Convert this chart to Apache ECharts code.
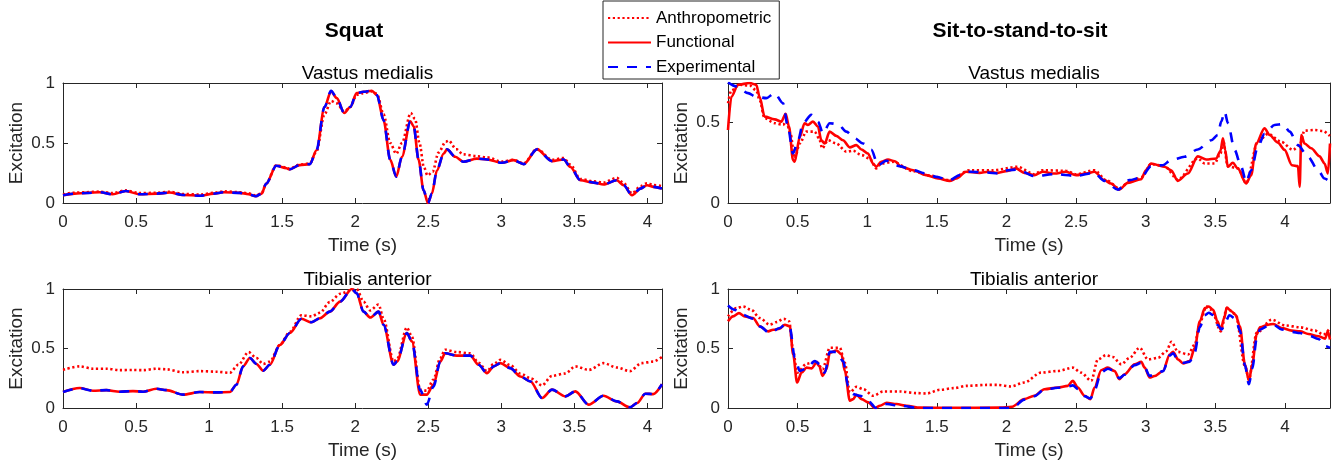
<!DOCTYPE html>
<html><head><meta charset="utf-8">
<script src="https://cdn.jsdelivr.net/npm/echarts@6/dist/echarts.min.js"></script>
<style>html,body{margin:0;padding:0;background:#fff}#c{width:1338px;height:468px}</style>
</head><body><div id="c"></div>
<script>
// ---------- DATA ----------
const seriesNames = ['Anthropometric', 'Functional', 'Experimental'];
const xTicksSquat = [0, 0.5, 1, 1.5, 2, 2.5, 3, 3.5, 4];
const xTicksSts = [0, 0.5, 1, 1.5, 2, 2.5, 3, 3.5, 4];
const yTicksFull = [0, 0.5, 1];
const yTicksStsVM = [0, 0.5];

// Squat - Vastus medialis
const sqVM_anthro = [[0,0.072],[0.08,0.086],[0.16,0.09],[0.25,0.095],[0.34,0.082],[0.43,0.105],[0.525,0.082],[0.64,0.085],[0.73,0.094],[0.82,0.075],[0.94,0.07],[1.03,0.085],[1.10,0.097],[1.21,0.09],[1.27,0.08],[1.32,0.062],[1.36,0.082],[1.39,0.16],[1.46,0.315],[1.53,0.295],[1.55,0.285],[1.62,0.32],[1.69,0.33],[1.735,0.43],[1.79,0.74],[1.835,0.85],[1.874,0.83],[1.925,0.76],[1.966,0.80],[2.01,0.90],[2.057,0.916],[2.114,0.93],[2.149,0.91],[2.194,0.74],[2.24,0.50],[2.281,0.41],[2.32,0.50],[2.38,0.75],[2.41,0.70],[2.44,0.50],[2.47,0.30],[2.495,0.23],[2.53,0.26],[2.57,0.42],[2.62,0.51],[2.64,0.52],[2.69,0.45],[2.74,0.405],[2.833,0.39],[2.902,0.38],[3.004,0.345],[3.084,0.36],[3.153,0.33],[3.244,0.45],[3.347,0.36],[3.427,0.375],[3.473,0.32],[3.541,0.20],[3.633,0.18],[3.70,0.17],[3.79,0.21],[3.838,0.165],[3.895,0.08],[3.952,0.14],[3.998,0.165],[4.043,0.15],[4.1,0.14]];
const sqVM_func = [[0,0.064],[0.08,0.078],[0.16,0.084],[0.25,0.09],[0.34,0.073],[0.43,0.10],[0.525,0.073],[0.64,0.078],[0.73,0.087],[0.82,0.067],[0.94,0.061],[1.03,0.078],[1.10,0.09],[1.21,0.084],[1.27,0.073],[1.32,0.056],[1.36,0.078],[1.39,0.16],[1.46,0.31],[1.53,0.29],[1.55,0.28],[1.62,0.316],[1.69,0.324],[1.735,0.44],[1.79,0.80],[1.835,0.93],[1.874,0.874],[1.925,0.75],[1.966,0.80],[2.01,0.916],[2.057,0.927],[2.114,0.936],[2.149,0.90],[2.194,0.69],[2.24,0.36],[2.281,0.22],[2.32,0.385],[2.377,0.68],[2.4,0.64],[2.434,0.36],[2.468,0.106],[2.498,0.0],[2.525,0.078],[2.559,0.27],[2.605,0.41],[2.628,0.447],[2.685,0.385],[2.74,0.344],[2.833,0.37],[2.902,0.363],[3.004,0.335],[3.084,0.357],[3.153,0.324],[3.244,0.447],[3.347,0.349],[3.427,0.363],[3.473,0.30],[3.541,0.19],[3.633,0.17],[3.70,0.154],[3.79,0.19],[3.838,0.148],[3.895,0.064],[3.952,0.12],[3.998,0.148],[4.043,0.134],[4.1,0.12]];
const sqVM_exp = [[0,0.064],[0.08,0.078],[0.16,0.083],[0.25,0.09],[0.34,0.072],[0.43,0.10],[0.525,0.073],[0.64,0.078],[0.73,0.086],[0.82,0.067],[0.94,0.061],[1.03,0.078],[1.10,0.09],[1.21,0.084],[1.27,0.073],[1.32,0.056],[1.36,0.078],[1.39,0.16],[1.46,0.31],[1.53,0.29],[1.55,0.28],[1.62,0.316],[1.69,0.324],[1.735,0.44],[1.79,0.80],[1.835,0.935],[1.874,0.874],[1.925,0.75],[1.966,0.80],[2.01,0.916],[2.057,0.927],[2.114,0.936],[2.149,0.90],[2.194,0.69],[2.24,0.36],[2.281,0.22],[2.32,0.385],[2.377,0.68],[2.4,0.64],[2.434,0.36],[2.468,0.106],[2.498,0.0],[2.525,0.078],[2.559,0.27],[2.605,0.41],[2.628,0.447],[2.685,0.385],[2.74,0.344],[2.833,0.37],[2.902,0.363],[3.004,0.335],[3.084,0.357],[3.153,0.324],[3.244,0.447],[3.347,0.349],[3.427,0.363],[3.473,0.30],[3.541,0.19],[3.633,0.17],[3.70,0.154],[3.79,0.19],[3.838,0.148],[3.895,0.064],[3.952,0.12],[3.998,0.148],[4.043,0.134],[4.1,0.12]];

// Squat - Tibialis anterior
const sqTA_anthro = [[0,0.32],[0.114,0.35],[0.205,0.33],[0.3,0.33],[0.388,0.318],[0.479,0.32],[0.548,0.318],[0.639,0.33],[0.708,0.325],[0.822,0.30],[0.936,0.31],[1.05,0.305],[1.142,0.296],[1.2,0.363],[1.27,0.47],[1.324,0.42],[1.37,0.37],[1.416,0.39],[1.484,0.53],[1.553,0.64],[1.632,0.78],[1.70,0.77],[1.758,0.80],[1.826,0.89],[1.897,0.96],[1.977,0.99],[2.01,1.0],[2.057,0.894],[2.103,0.82],[2.16,0.87],[2.194,0.75],[2.263,0.39],[2.286,0.41],[2.354,0.676],[2.388,0.6],[2.445,0.154],[2.49,0.145],[2.536,0.24],[2.582,0.42],[2.616,0.49],[2.696,0.47],[2.788,0.46],[2.845,0.38],[2.902,0.31],[2.948,0.37],[2.994,0.405],[3.062,0.36],[3.131,0.29],[3.2,0.25],[3.279,0.19],[3.347,0.27],[3.438,0.29],[3.507,0.35],[3.598,0.32],[3.70,0.377],[3.79,0.34],[3.88,0.31],[3.96,0.377],[4.04,0.39],[4.1,0.43]];
const sqTA_func = [[0,0.134],[0.114,0.168],[0.205,0.145],[0.297,0.15],[0.388,0.137],[0.479,0.142],[0.548,0.137],[0.639,0.162],[0.708,0.15],[0.822,0.112],[0.936,0.134],[1.05,0.131],[1.142,0.134],[1.187,0.196],[1.233,0.35],[1.279,0.42],[1.324,0.37],[1.37,0.313],[1.416,0.363],[1.484,0.53],[1.553,0.63],[1.632,0.75],[1.70,0.72],[1.758,0.754],[1.826,0.81],[1.897,0.894],[1.977,1.0],[2.01,0.964],[2.057,0.81],[2.103,0.76],[2.16,0.81],[2.194,0.70],[2.263,0.363],[2.286,0.39],[2.354,0.63],[2.388,0.56],[2.445,0.112],[2.49,0.112],[2.536,0.196],[2.582,0.39],[2.616,0.46],[2.696,0.44],[2.788,0.44],[2.845,0.363],[2.902,0.293],[2.948,0.35],[2.994,0.377],[3.062,0.335],[3.131,0.265],[3.2,0.223],[3.279,0.084],[3.347,0.154],[3.438,0.098],[3.507,0.14],[3.598,0.028],[3.70,0.103],[3.79,0.056],[3.88,0.006],[3.93,0.042],[3.986,0.12],[4.04,0.117],[4.1,0.2]];
const sqTA_exp = [[0,0.134],[0.114,0.167],[0.205,0.145],[0.297,0.15],[0.388,0.137],[0.479,0.142],[0.548,0.137],[0.639,0.162],[0.708,0.15],[0.822,0.112],[0.936,0.134],[1.05,0.131],[1.142,0.134],[1.187,0.196],[1.233,0.35],[1.279,0.42],[1.324,0.37],[1.37,0.313],[1.416,0.363],[1.484,0.53],[1.553,0.63],[1.632,0.75],[1.70,0.72],[1.758,0.754],[1.826,0.81],[1.897,0.894],[1.977,1.0],[2.01,0.964],[2.057,0.81],[2.103,0.76],[2.16,0.81],[2.194,0.70],[2.263,0.363],[2.286,0.39],[2.354,0.63],[2.388,0.56],[2.445,0.15],[2.49,0.028],[2.536,0.18],[2.582,0.39],[2.616,0.46],[2.696,0.44],[2.788,0.44],[2.845,0.363],[2.902,0.293],[2.948,0.35],[2.994,0.377],[3.062,0.335],[3.131,0.265],[3.2,0.223],[3.279,0.084],[3.347,0.154],[3.438,0.098],[3.507,0.14],[3.598,0.028],[3.70,0.103],[3.79,0.056],[3.88,0.006],[3.93,0.042],[3.986,0.12],[4.04,0.117],[4.1,0.2]];

// Sit-to-stand-to-sit - Vastus medialis
const stsVM_anthro = [[0,0.62],[0.024,0.70],[0.084,0.735],[0.156,0.73],[0.203,0.70],[0.227,0.64],[0.263,0.527],[0.335,0.496],[0.395,0.485],[0.419,0.506],[0.448,0.433],[0.479,0.277],[0.515,0.37],[0.563,0.444],[0.622,0.444],[0.654,0.402],[0.677,0.34],[0.718,0.39],[0.778,0.37],[0.85,0.319],[0.898,0.325],[0.958,0.298],[1.017,0.277],[1.065,0.215],[1.10,0.246],[1.185,0.256],[1.329,0.198],[1.45,0.17],[1.592,0.142],[1.735,0.204],[1.903,0.204],[2.08,0.225],[2.2,0.179],[2.26,0.204],[2.427,0.2],[2.5,0.179],[2.631,0.204],[2.72,0.14],[2.81,0.09],[2.88,0.13],[2.966,0.158],[3.038,0.242],[3.134,0.229],[3.23,0.146],[3.374,0.277],[3.422,0.246],[3.494,0.246],[3.537,0.308],[3.556,0.3875],[3.589,0.229],[3.661,0.215],[3.721,0.125],[3.805,0.38],[3.877,0.43],[3.973,0.38],[4.057,0.33],[4.105,0.36],[4.14,0.45],[4.212,0.454],[4.27,0.448],[4.323,0.417]];
const stsVM_func = [[0,0.454],[0.024,0.66],[0.072,0.735],[0.156,0.746],[0.203,0.735],[0.227,0.66],[0.263,0.537],[0.335,0.52],[0.383,0.506],[0.414,0.554],[0.438,0.475],[0.467,0.267],[0.479,0.256],[0.515,0.41],[0.55,0.496],[0.574,0.485],[0.61,0.506],[0.646,0.475],[0.67,0.39],[0.694,0.37],[0.73,0.444],[0.778,0.417],[0.826,0.39],[0.874,0.346],[0.922,0.36],[0.958,0.333],[1.005,0.308],[1.041,0.246],[1.065,0.225],[1.10,0.256],[1.149,0.27],[1.197,0.26],[1.245,0.225],[1.329,0.204],[1.424,0.173],[1.508,0.152],[1.592,0.1375],[1.64,0.152],[1.71,0.194],[1.807,0.1875],[1.867,0.194],[1.937,0.1875],[2.009,0.2],[2.068,0.215],[2.128,0.1875],[2.2,0.173],[2.26,0.194],[2.344,0.183],[2.427,0.194],[2.5,0.173],[2.571,0.183],[2.631,0.194],[2.703,0.142],[2.75,0.121],[2.81,0.083],[2.87,0.125],[2.966,0.148],[3.002,0.204],[3.038,0.246],[3.134,0.225],[3.182,0.204],[3.23,0.1375],[3.302,0.183],[3.374,0.29],[3.434,0.27],[3.506,0.277],[3.537,0.325],[3.554,0.402],[3.57,0.33],[3.589,0.225],[3.625,0.25],[3.661,0.215],[3.721,0.121],[3.757,0.173],[3.793,0.37],[3.853,0.465],[3.889,0.423],[3.949,0.375],[3.997,0.33],[4.05,0.235],[4.093,0.229],[4.105,0.1],[4.117,0.423],[4.14,0.37],[4.188,0.34],[4.248,0.29],[4.284,0.246],[4.308,0.183],[4.323,0.37]];
const stsVM_exp = [[0,0.75],[0.06,0.725],[0.144,0.683],[0.203,0.66],[0.275,0.652],[0.335,0.683],[0.395,0.62],[0.43,0.475],[0.467,0.308],[0.503,0.39],[0.539,0.496],[0.598,0.548],[0.646,0.506],[0.682,0.433],[0.73,0.496],[0.79,0.49],[0.85,0.444],[0.91,0.402],[0.97,0.37],[1.03,0.33],[1.077,0.235],[1.137,0.2625],[1.233,0.229],[1.329,0.204],[1.424,0.183],[1.496,0.1625],[1.592,0.142],[1.664,0.173],[1.735,0.194],[1.85,0.19],[1.951,0.183],[2.009,0.204],[2.08,0.208],[2.2,0.167],[2.344,0.179],[2.5,0.169],[2.631,0.1875],[2.703,0.1375],[2.8,0.083],[2.882,0.142],[2.966,0.158],[3.038,0.229],[3.122,0.235],[3.182,0.267],[3.278,0.2875],[3.374,0.333],[3.47,0.39],[3.518,0.423],[3.542,0.506],[3.566,0.569],[3.59,0.496],[3.638,0.33],[3.685,0.225],[3.721,0.131],[3.757,0.204],[3.805,0.35],[3.853,0.43],[3.925,0.485],[3.985,0.49],[4.033,0.444],[4.093,0.36],[4.165,0.2875],[4.237,0.204],[4.284,0.152],[4.323,0.131]];

// Sit-to-stand-to-sit - Tibialis anterior
const stsTA_anthro = [[0,0.77],[0.06,0.839],[0.108,0.853],[0.168,0.825],[0.228,0.756],[0.30,0.70],[0.348,0.722],[0.40,0.75],[0.439,0.728],[0.468,0.478],[0.496,0.297],[0.564,0.372],[0.635,0.389],[0.679,0.325],[0.731,0.506],[0.803,0.506],[0.839,0.38],[0.875,0.131],[0.923,0.178],[0.971,0.158],[1.043,0.103],[1.115,0.139],[1.235,0.139],[1.355,0.125],[1.427,0.122],[1.523,0.153],[1.619,0.167],[1.715,0.186],[1.859,0.194],[1.937,0.194],[2.032,0.181],[2.128,0.214],[2.248,0.297],[2.368,0.311],[2.476,0.339],[2.536,0.297],[2.608,0.228],[2.656,0.408],[2.716,0.444],[2.764,0.428],[2.824,0.367],[2.884,0.422],[2.956,0.506],[3.016,0.408],[3.088,0.422],[3.148,0.478],[3.184,0.556],[3.232,0.472],[3.304,0.45],[3.352,0.533],[3.388,0.714],[3.436,0.853],[3.472,0.825],[3.539,0.644],[3.582,0.839],[3.645,0.789],[3.712,0.353],[3.741,0.242],[3.796,0.631],[3.904,0.742],[4.0,0.694],[4.108,0.678],[4.216,0.65],[4.276,0.617],[4.323,0.672]];
const stsTA_func = [[0,0.728],[0.036,0.77],[0.079,0.797],[0.12,0.77],[0.18,0.756],[0.228,0.686],[0.288,0.644],[0.324,0.658],[0.372,0.667],[0.408,0.70],[0.444,0.686],[0.468,0.45],[0.496,0.214],[0.528,0.297],[0.564,0.339],[0.60,0.333],[0.635,0.38],[0.655,0.353],[0.679,0.27],[0.707,0.325],[0.731,0.464],[0.779,0.483],[0.815,0.45],[0.839,0.311],[0.875,0.061],[0.899,0.075],[0.923,0.111],[0.959,0.075],[1.007,0.047],[1.055,0.0],[1.091,0.019],[1.139,0.044],[1.211,0.033],[1.283,0.019],[1.379,0.003],[1.6,0.002],[1.954,0.003],[2.04,0.011],[2.128,0.075],[2.2,0.103],[2.272,0.158],[2.368,0.172],[2.44,0.186],[2.476,0.228],[2.512,0.172],[2.56,0.103],[2.603,0.075],[2.632,0.172],[2.68,0.317],[2.728,0.339],[2.776,0.311],[2.81,0.242],[2.848,0.283],[2.92,0.367],[2.968,0.389],[2.992,0.339],[3.028,0.256],[3.064,0.269],[3.124,0.311],[3.172,0.45],[3.196,0.472],[3.232,0.408],[3.268,0.375],[3.316,0.394],[3.352,0.506],[3.388,0.728],[3.424,0.839],[3.452,0.853],[3.484,0.825],[3.515,0.728],[3.539,0.658],[3.563,0.756],[3.582,0.844],[3.616,0.811],[3.645,0.783],[3.676,0.686],[3.712,0.367],[3.741,0.228],[3.765,0.367],[3.796,0.617],[3.82,0.678],[3.88,0.70],[3.916,0.706],[3.976,0.672],[4.048,0.65],[4.108,0.644],[4.168,0.622],[4.24,0.603],[4.288,0.583],[4.307,0.644],[4.323,0.575]];
const stsTA_exp = [[0,0.861],[0.048,0.825],[0.108,0.783],[0.18,0.75],[0.228,0.686],[0.30,0.63],[0.372,0.672],[0.408,0.70],[0.444,0.672],[0.48,0.422],[0.516,0.311],[0.564,0.333],[0.624,0.394],[0.66,0.367],[0.695,0.297],[0.731,0.472],[0.779,0.472],[0.827,0.394],[0.863,0.186],[0.899,0.117],[0.947,0.103],[1.007,0.061],[1.062,0.0],[1.139,0.033],[1.235,0.019],[1.379,0.0],[1.7,0.0],[1.954,0.0],[2.04,0.0],[2.128,0.07],[2.2,0.10],[2.272,0.155],[2.368,0.17],[2.44,0.18],[2.476,0.19],[2.512,0.16],[2.56,0.10],[2.603,0.08],[2.632,0.15],[2.68,0.30],[2.728,0.33],[2.776,0.31],[2.81,0.25],[2.848,0.28],[2.92,0.36],[2.968,0.38],[2.992,0.34],[3.028,0.27],[3.064,0.28],[3.124,0.31],[3.172,0.44],[3.196,0.46],[3.232,0.40],[3.268,0.38],[3.316,0.39],[3.352,0.47],[3.388,0.68],[3.424,0.78],[3.452,0.80],[3.484,0.78],[3.515,0.70],[3.545,0.66],[3.575,0.73],[3.6,0.78],[3.645,0.75],[3.676,0.65],[3.712,0.36],[3.741,0.20],[3.765,0.33],[3.796,0.58],[3.82,0.66],[3.88,0.69],[3.916,0.70],[3.976,0.66],[4.048,0.64],[4.108,0.63],[4.168,0.61],[4.24,0.58],[4.288,0.52],[4.323,0.505]];

// ---------- LAYOUT / STYLE ----------
const FONT = 'Liberation Sans, Arial, Helvetica, sans-serif';
const AX = '#262626';
const panels = [
  {left: 63,  top: 83,  width: 599, height: 120, xmax: 4.1,   ymax: 1,     xt: xTicksSquat, yt: yTicksFull, title: 'Vastus medialis',   data: [sqVM_anthro, sqVM_func, sqVM_exp]},
  {left: 728, top: 83,  width: 602, height: 120, xmax: 4.323, ymax: 0.746, xt: xTicksSts,   yt: yTicksStsVM, title: 'Vastus medialis',  data: [stsVM_anthro, stsVM_func, stsVM_exp]},
  {left: 63,  top: 289, width: 599, height: 119, xmax: 4.1,   ymax: 1,     xt: xTicksSquat, yt: yTicksFull, title: 'Tibialis anterior', data: [sqTA_anthro, sqTA_func, sqTA_exp]},
  {left: 728, top: 289, width: 602, height: 119, xmax: 4.323, ymax: 1,     xt: xTicksSts,   yt: yTicksFull, title: 'Tibialis anterior', data: [stsTA_anthro, stsTA_func, stsTA_exp]}
];
const lineStyles = [
  {color: '#ff0000', width: 2.6, type: [2.2, 2.6]},
  {color: '#ff0000', width: 2.6, type: 'solid'},
  {color: '#0000ff', width: 2.6, type: [10, 9]}
];
const fmt = v => String(Math.round(v * 100) / 100);

const grid = [], xAxis = [], yAxis = [], series = [], title = [];
panels.forEach((p, i) => {
  grid.push({left: p.left, top: p.top, width: p.width, height: p.height, containLabel: false});
  const common = {gridIndex: i, type: 'value', min: 0, splitLine: {show: false},
    axisLine: {show: true, onZero: false, lineStyle: {color: AX, width: 1}}};
  xAxis.push(Object.assign({}, common, {position: 'bottom', max: p.xmax,
    name: 'Time (s)', nameLocation: 'middle', nameGap: 33,
    nameTextStyle: {fontFamily: FONT, fontSize: 19, color: AX},
    axisTick: {show: true, inside: true, length: 5, customValues: p.xt, lineStyle: {color: AX}},
    axisLabel: {show: true, margin: 11, fontFamily: FONT, fontSize: 17, color: AX, customValues: p.xt, formatter: fmt}}));
  xAxis.push(Object.assign({}, common, {position: 'top', max: p.xmax,
    axisTick: {show: true, inside: true, length: 5, customValues: p.xt, lineStyle: {color: AX}},
    axisLabel: {show: false}}));
  yAxis.push(Object.assign({}, common, {position: 'left', max: p.ymax,
    name: 'Excitation', nameLocation: 'middle', nameGap: 37, nameRotate: 90,
    nameTextStyle: {fontFamily: FONT, fontSize: 19, color: AX},
    axisTick: {show: true, inside: true, length: 5, customValues: p.yt, lineStyle: {color: AX}},
    axisLabel: {show: true, margin: 8, fontFamily: FONT, fontSize: 17, color: AX, customValues: p.yt, formatter: fmt}}));
  yAxis.push(Object.assign({}, common, {position: 'right', max: p.ymax,
    axisTick: {show: true, inside: true, length: 5, customValues: p.yt, lineStyle: {color: AX}},
    axisLabel: {show: false}}));
  p.data.forEach((d, k) => {
    series.push({type: 'line', name: seriesNames[k], xAxisIndex: 2 * i, yAxisIndex: 2 * i,
      data: d, symbol: 'none', smooth: 0.3, smoothMonotone: 'x', clip: true,
      lineStyle: lineStyles[k], itemStyle: {color: lineStyles[k].color},
      emphasis: {disabled: true}, animation: false, z: 2 + k});
  });
  title.push({text: p.title, left: p.left + p.width / 2, top: p.top - 24, textAlign: 'center',
    textStyle: {fontFamily: FONT, fontSize: 19, fontWeight: 'normal', color: '#000'}});
});
title.push({text: 'Squat', left: 349, top: 16, textAlign: 'center',
  textStyle: {fontFamily: FONT, fontSize: 21, fontWeight: 'bold', color: '#000'}});
title.push({text: 'Sit-to-stand-to-sit', left: 1015, top: 16, textAlign: 'center',
  textStyle: {fontFamily: FONT, fontSize: 21, fontWeight: 'bold', color: '#000'}});

const chart = echarts.init(document.getElementById('c'), null, {renderer: 'canvas'});
chart.setOption({
  animation: false,
  backgroundColor: '#fff',
  title: title,
  legend: {
    data: seriesNames, orient: 'vertical', left: 603, top: 1,
    padding: [7, 8, 2, 4], itemGap: 4.5, itemWidth: 43, itemHeight: 14,
    itemStyle: {opacity: 0, borderWidth: 0},
    borderColor: AX, borderWidth: 1, backgroundColor: '#fff',
    textStyle: {fontFamily: FONT, fontSize: 17, color: '#000', lineHeight: 20},
    selectedMode: false
  },
  grid: grid, xAxis: xAxis, yAxis: yAxis, series: series
});
</script></body></html>
